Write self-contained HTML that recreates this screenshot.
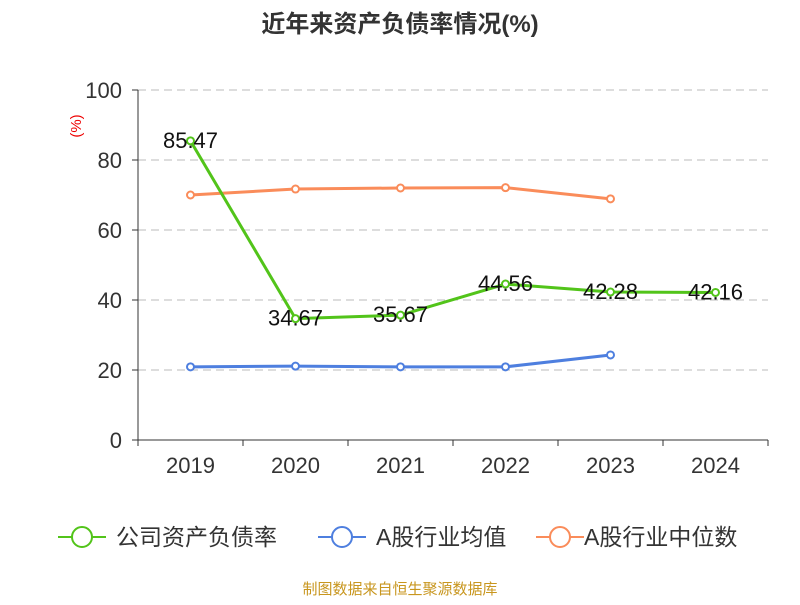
<!DOCTYPE html>
<html><head><meta charset="utf-8"><style>
body{margin:0;background:#fff;}
svg text{font-family:"Liberation Sans","Noto Sans CJK SC",sans-serif;}
</style></head><body>
<svg id="chart" width="800" height="600" xmlns="http://www.w3.org/2000/svg">
<text x="400" y="32" text-anchor="middle" font-size="24" font-weight="bold" fill="#333">近年来资产负债率情况(%)</text>
<text x="0" y="0" transform="translate(81,126) rotate(-90)" text-anchor="middle" font-size="15" fill="#e00">(%)</text>
<g id="grid"></g><g id="axes"></g><g id="series"></g>
<g>
<g><line x1="58" y1="537" x2="106" y2="537" stroke="#52c41a" stroke-width="2"/><circle cx="82" cy="537" r="10" fill="#fff" stroke="#52c41a" stroke-width="2"/><text x="116" y="545" font-size="23" fill="#333">公司资产负债率</text></g>
<g><line x1="318" y1="537" x2="366" y2="537" stroke="#4e7fdf" stroke-width="2"/><circle cx="342" cy="537" r="10" fill="#fff" stroke="#4e7fdf" stroke-width="2"/><text x="376" y="545" font-size="23" fill="#333">A股行业均值</text></g>
<g><line x1="536" y1="537" x2="584" y2="537" stroke="#fa8c5a" stroke-width="2"/><circle cx="560" cy="537" r="10" fill="#fff" stroke="#fa8c5a" stroke-width="2"/><text x="584" y="545" font-size="23" fill="#333" dx="0">A股行业中位数</text></g>
</g>
<text x="400" y="594" text-anchor="middle" font-size="15" fill="#c8961e">制图数据来自恒生聚源数据库</text>
</svg>
<script>
const categories=["2019","2020","2021","2022","2023","2024"];
const yTicks=[0,20,40,60,80,100];
const companyValues=[85.47,34.67,35.67,44.56,42.28,42.16];
const companyLabels=["85.47","34.67","35.67","44.56","42.28","42.16"];
const meanValues=[20.9,21.1,20.9,20.9,24.3];
const medianValues=[70.0,71.7,72.0,72.1,68.9];
const NS="http://www.w3.org/2000/svg";
const x0=138,x1=768,y0=440,y1=90;
const bw=(x1-x0)/categories.length;
const xs=i=>x0+bw*(i+0.5);
const ys=v=>y0-(v/100)*(y0-y1);
function mk(t,a,p){const e=document.createElementNS(NS,t);for(const k in a)e.setAttribute(k,a[k]);p.appendChild(e);return e;}
const grid=document.getElementById('grid'),axes=document.getElementById('axes'),ser=document.getElementById('series');
yTicks.forEach(v=>{
 if(v>0){const l=mk('line',{x1:x0,x2:x1,y1:ys(v),y2:ys(v),stroke:'#bbb','stroke-dasharray':'8,5'},grid);
 
 }
 const t=mk('text',{x:x0-16,y:ys(v)+8,'text-anchor':'end','font-size':22,fill:'#333'},axes);t.textContent=v;
 
 
 mk('line',{x1:x0-6,x2:x0,y1:ys(v),y2:ys(v),stroke:'#333'},axes);
});
let ya=mk('line',{x1:x0,x2:x0,y1:y1,y2:y0,stroke:'#333'},axes);


let xa=mk('line',{x1:x0,x2:x1,y1:y0,y2:y0,stroke:'#333'},axes);


for(let i=0;i<=categories.length;i++)mk('line',{x1:x0+bw*i,x2:x0+bw*i,y1:y0,y2:y0+6,stroke:'#333'},axes);
categories.forEach((c,i)=>{const t=mk('text',{x:xs(i),y:y0+33,'text-anchor':'middle','font-size':22,fill:'#333'},axes);t.textContent=c;
 
 });
function line(vals,color,name){
 const g=mk('g',{},ser);
 
 
 mk('polyline',{points:vals.map((v,i)=>xs(i)+','+ys(v)).join(' '),fill:'none',stroke:color,'stroke-width':3},g);
 vals.forEach((v,i)=>{const c=mk('circle',{cx:xs(i),cy:ys(v),r:3.5,fill:'#fff',stroke:color,'stroke-width':2},g);
  
  });
}
line(medianValues,'#fa8c5a','industry-median-series');
line(meanValues,'#4e7fdf','industry-mean-series');
line(companyValues,'#52c41a','company-series');
companyValues.forEach((v,i)=>{const t=mk('text',{x:xs(i),y:ys(v)+7,'text-anchor':'middle','font-size':22,fill:'#111'},ser);t.textContent=companyLabels[i];
 
 });
</script>
</body></html>
